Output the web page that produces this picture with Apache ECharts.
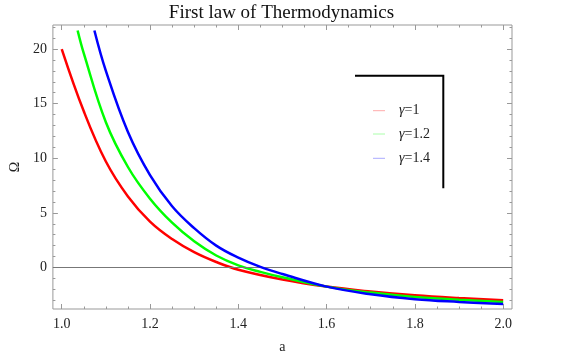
<!DOCTYPE html>
<html>
<head>
<meta charset="utf-8">
<script src="https://cdn.jsdelivr.net/npm/echarts@6/dist/echarts.min.js"></script>
<style>
html,body{margin:0;padding:0;background:#fff;}
#c{width:581px;height:363px;}
</style>
</head>
<body>
<div id="c"></div>
<script>
// ---- data ----
const aRed   = [1.0, 1.05, 1.1, 1.15, 1.2, 1.25, 1.3, 1.35, 1.4, 1.5, 1.6, 1.7, 1.8, 1.9, 2.0];
const omRed  = [20.0, 14.3, 9.7, 6.5, 4.2, 2.6, 1.4, 0.5, -0.2, -1.1, -1.75, -2.2, -2.55, -2.8, -3.0];
const aGreen = [1.036, 1.05, 1.1, 1.15, 1.2, 1.25, 1.3, 1.35, 1.4, 1.45, 1.5, 1.6, 1.7, 1.8, 1.9, 2.0];
const omGreen= [21.7, 19.6, 13.3, 9.2, 6.3, 4.1, 2.4, 1.1, 0.2, -0.4, -0.9, -1.75, -2.3, -2.7, -2.95, -3.16];
const aBlue  = [1.074, 1.1, 1.15, 1.2, 1.25, 1.3, 1.35, 1.4, 1.45, 1.5, 1.6, 1.7, 1.8, 1.9, 2.0];
const omBlue = [21.7, 18.0, 12.4, 8.45, 5.6, 3.6, 2.0, 0.9, 0.05, -0.6, -1.75, -2.45, -2.9, -3.15, -3.34];
const gammaValues = ['1', '1.2', '1.4'];
const seriesNames = gammaValues.map(g => 'γ=' + g);

const xMajor = [1.0, 1.2, 1.4, 1.6, 1.8, 2.0];
const xMinor = [1.05, 1.1, 1.15, 1.25, 1.3, 1.35, 1.45, 1.5, 1.55, 1.65, 1.7, 1.75, 1.85, 1.9, 1.95];
const yMajor = [0, 5, 10, 15, 20];
const yMinor = [-3, -2, -1, 1, 2, 3, 4, 6, 7, 8, 9, 11, 12, 13, 14, 16, 17, 18, 19, 21, 22];
const xRange = [0.98, 2.02];
const yRange = [-3.8, 22.2];

const zip = (xs, ys) => xs.map((x, i) => [x, ys[i]]);

const FONT = "'Liberation Serif','DejaVu Serif',serif";
const TICK = '#999';

function xAxisDef(pos, ticks, len, labels, extra) {
  return Object.assign({
    type: 'value', position: pos, min: xRange[0], max: xRange[1],
    axisLine: { show: false, onZero: false },
    axisTick: { show: true, inside: true, length: len, customValues: ticks, lineStyle: { color: TICK, width: 1 } },
    axisLabel: { show: labels, customValues: ticks, margin: 8, color: '#222', fontFamily: FONT, fontSize: 14,
                 formatter: v => v.toFixed(1) },
    splitLine: { show: false }
  }, extra || {});
}
function yAxisDef(pos, ticks, len, labels, extra) {
  return Object.assign({
    type: 'value', position: pos, min: yRange[0], max: yRange[1],
    axisLine: { show: false, onZero: false },
    axisTick: { show: true, inside: true, length: len, customValues: ticks, lineStyle: { color: TICK, width: 1 } },
    axisLabel: { show: labels, customValues: ticks, margin: 6, color: '#222', fontFamily: FONT, fontSize: 14,
                 formatter: v => String(v) },
    splitLine: { show: false }
  }, extra || {});
}

const chart = echarts.init(document.getElementById('c'), null, { renderer: 'canvas' });
const G = { left: 51.5, top: 25, width: 460.5, height: 284 };

const legendY = [110.7, 134, 158.3];
const legendColors = ['#ffaaaa', '#aaffaa', '#aaaaff'];
const legendGraphics = [];
gammaValues.forEach((g, i) => {
  legendGraphics.push({ type: 'line', shape: { x1: 373, y1: legendY[i], x2: 385, y2: legendY[i] },
    style: { stroke: legendColors[i], lineWidth: 1 } });
  legendGraphics.push({ type: 'text', x: 399, y: legendY[i],
    style: { text: '{i|γ}=' + g, font: "14px " + FONT, fill: '#222', verticalAlign: 'middle',
      rich: { i: { fontStyle: 'italic', fontFamily: FONT, fontSize: 14, fill: '#222' } } } });
});

chart.setOption({
  animation: false,
  backgroundColor: '#fff',
  grid: Object.assign({ show: true, borderColor: '#999', borderWidth: 1, backgroundColor: 'transparent' }, G),
  xAxis: [
    xAxisDef('bottom', xMajor, 5, true, { name: 'a', nameLocation: 'middle', nameGap: 31,
      nameTextStyle: { fontFamily: FONT, fontSize: 14, color: '#222' } }),
    xAxisDef('bottom', xMinor, 2.5, false),
    xAxisDef('top', xMajor, 5, false),
    xAxisDef('top', xMinor, 2.5, false)
  ],
  yAxis: [
    yAxisDef('left', yMajor, 5, true, { name: 'Ω', nameLocation: 'middle', nameGap: 24,
      nameTextStyle: { fontFamily: FONT, fontSize: 14, color: '#222' } }),
    yAxisDef('left', yMinor, 2.5, false),
    yAxisDef('right', yMajor, 5, false),
    yAxisDef('right', yMinor, 2.5, false)
  ],
  series: [
    { name: seriesNames[0], type: 'line', data: zip(aRed, omRed), smooth: 0.4, showSymbol: false,
      lineStyle: { color: '#ff0000', width: 2.5 }, itemStyle: { color: '#ff0000' },
      markLine: { silent: true, symbol: 'none', label: { show: false },
        lineStyle: { color: '#777', width: 1, type: 'solid' }, data: [{ yAxis: 0 }] },
      z: 3 },
    { name: seriesNames[1], type: 'line', data: zip(aGreen, omGreen), smooth: 0.4, showSymbol: false,
      lineStyle: { color: '#00ff00', width: 2.5 }, itemStyle: { color: '#00ff00' }, z: 4 },
    { name: seriesNames[2], type: 'line', data: zip(aBlue, omBlue), smooth: 0.4, showSymbol: false,
      lineStyle: { color: '#0000ff', width: 2.5 }, itemStyle: { color: '#0000ff' }, z: 5 }
  ],
  graphic: [
    { type: 'text', x: 281.5, y: 13.5, style: { text: 'First law of Thermodynamics', font: "19px " + FONT,
        fill: '#111', align: 'center', verticalAlign: 'middle' } },
    { type: 'polyline', shape: { points: [[355, 75.7], [443.3, 75.7], [443.3, 188.3]] },
      style: { stroke: '#000', lineWidth: 2, fill: null } }
  ].concat(legendGraphics)
});
</script>
</body>
</html>
